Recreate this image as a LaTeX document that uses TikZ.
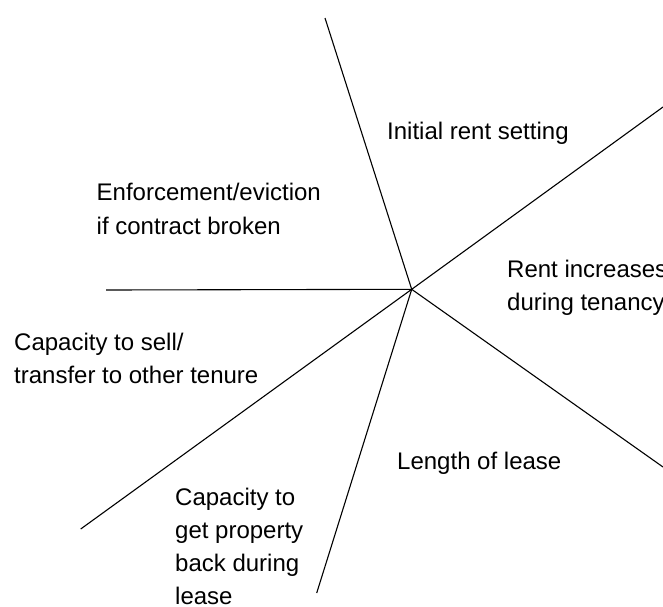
\documentclass[tikz,border=0pt]{standalone}
\usepackage{fontspec}
\setmainfont{Liberation Sans}
\begin{document}
\begin{tikzpicture}[x=1pt,y=-1pt,
  spoke/.style={draw=black,line width=1.1pt},
  lbl/.style={anchor=base west,inner sep=0pt,font=\fontsize{24}{33}\selectfont}]
\useasboundingbox (0,0) rectangle (663,606);
\coordinate (c) at (411.7,289.3);
\coordinate (eN) at (325,18);
\coordinate (eNE) at (663,107);
\coordinate (eW) at (106,290);
\coordinate (eSE) at (663,467);
\coordinate (eSW) at (80.7,529);
\coordinate (eS) at (316.7,593);
\draw[spoke] (eN) -- (c);
\draw[spoke] (c) -- (eNE);
\draw[spoke] (eW) -- (c);
\draw[spoke] (c) -- (eSE);
\draw[spoke] (c) -- (eSW);
\draw[spoke] (c) -- (eS);
\node[lbl] (t1) at (387,139) {Initial rent setting};
\node[lbl] (t2a) at (96.5,200.7) {Enforcement/eviction};
\node[lbl] (t2b) at (96.5,234) {if contract broken};
\node[lbl] (t3a) at (507,277.5) {Rent increases};
\node[lbl] (t3b) at (507,310) {during tenancy};
\node[lbl] (t4a) at (14,350.5) {Capacity to sell/};
\node[lbl] (t4b) at (14,383.5) {transfer to other tenure};
\node[lbl] (t5) at (397,469.3) {Length of lease};
\node[lbl] (t6a) at (175,505) {Capacity to};
\node[lbl] (t6b) at (175,538) {get property};
\node[lbl] (t6c) at (175,571) {back during};
\node[lbl] (t6d) at (175,604) {lease};
\end{tikzpicture}
\end{document}
